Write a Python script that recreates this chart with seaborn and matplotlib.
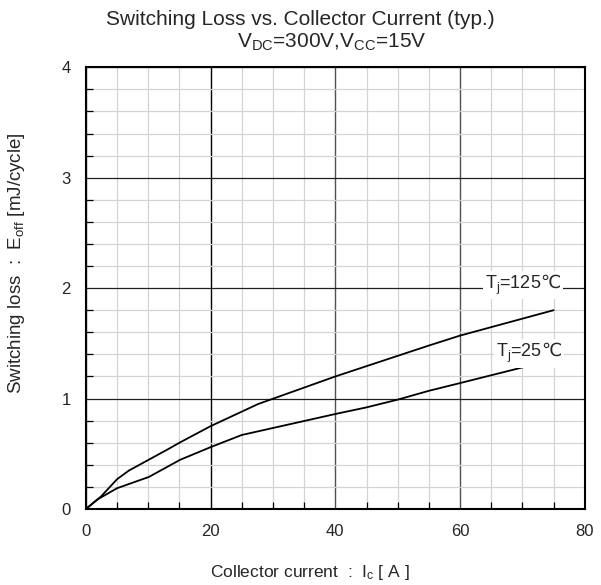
import matplotlib
matplotlib.use("Agg")
import matplotlib.pyplot as plt
import numpy as np
import pandas as pd
import seaborn as sns
from matplotlib.ticker import MultipleLocator

# readings from the reference curve (Ic [A], Eoff [mJ/cycle])
ic_125 = [0, 2.4, 5.0, 6.9, 13.0, 15.1, 20.0, 27.6, 40.0, 55.0, 60.0, 75.0]
eoff_125 = [0, 0.112, 0.27, 0.348, 0.536, 0.603, 0.75, 0.95, 1.20, 1.48, 1.57, 1.80]
ic_25 = [0, 1.9, 5.0, 10.1, 15.1, 20.0, 25.0, 40.0, 45.0, 50.0, 55.0, 60.0, 72.0]
eoff_25 = [0, 0.088, 0.188, 0.29, 0.445, 0.56, 0.67, 0.86, 0.92, 0.99, 1.07, 1.14, 1.31]

x_ticks = [0, 20, 40, 60, 80]
y_ticks = [0, 1, 2, 3, 4]

sns.set_theme(style="white")
plt.rcParams["font.family"] = ["Liberation Sans", "DejaVu Sans"]
plt.rcParams["mathtext.fontset"] = "custom"
plt.rcParams["mathtext.rm"] = "Liberation Sans"
plt.rcParams["mathtext.it"] = "Liberation Sans"
plt.rcParams["mathtext.sf"] = "DejaVu Sans"

df = pd.concat([
    pd.DataFrame({"ic": ic_125, "eoff": eoff_125, "tj": "125"}),
    pd.DataFrame({"ic": ic_25, "eoff": eoff_25, "tj": "25"}),
])

fig = plt.figure(figsize=(6.01, 5.85), dpi=100)
ax = fig.add_axes([0.143, 0.130, 0.830, 0.755])

sns.lineplot(data=df, x="ic", y="eoff", units="tj", estimator=None,
             color="black", lw=1.3, sort=False, ax=ax, legend=False, zorder=5)

ax.set_xlim(0, 80)
ax.set_ylim(0, 4)
ax.set_xticks(x_ticks)
ax.set_yticks(y_ticks)
ax.xaxis.set_minor_locator(MultipleLocator(5))
ax.yaxis.set_minor_locator(MultipleLocator(0.2))

ax.grid(which="minor", color="#d4d4d4", lw=0.9)
ax.grid(which="major", axis="x", color="#505050", lw=1.0)
ax.grid(which="major", axis="y", color="#202020", lw=0.9)
for gl in ax.get_xgridlines()[1:2]:
    gl.set_color("black")
ax.set_axisbelow(True)

for s in ax.spines.values():
    s.set_color("black")
    s.set_linewidth(1.5)

ax.tick_params(which="both", direction="in", color="black", labelsize=12,
               pad=11, top=False, right=False)
ax.tick_params(which="major", length=7, width=1)
ax.tick_params(which="minor", length=5, width=0.9, left=True, bottom=True)

ax.set_xlabel(r"Collector current  :  I$_{\mathregular{c}}$ [ A ]", fontsize=12.5)
ax.set_ylabel(r"Switching loss  :  E$_{\mathregular{off}}$ [mJ/cycle]", fontsize=13.5)
ax.xaxis.set_label_coords(0.449, -0.122)
ax.yaxis.set_label_coords(-0.118, 0.557)

bbox = dict(facecolor="white", edgecolor="none", pad=1.5)
ax.text(70.1, 2.03, "T$_{\\mathregular{j}}$=125$\\mathsf{\u2103}$", fontsize=13,
        ha="center", va="center", bbox=bbox, zorder=6)
ax.text(71.0, 1.41, "T$_{\\mathregular{j}}$=25$\\mathsf{\u2103}$", fontsize=13,
        ha="center", va="center", bbox=bbox, zorder=6)

fig.text(0.499, 0.957, "Switching Loss vs. Collector Current (typ.)",
         fontsize=15, ha="center", va="baseline")
fig.text(0.552, 0.918, r"V$_{\mathregular{DC}}$=300V,V$_{\mathregular{CC}}$=15V",
         fontsize=15, ha="center", va="baseline")

fig.savefig("out.png", dpi=100)
